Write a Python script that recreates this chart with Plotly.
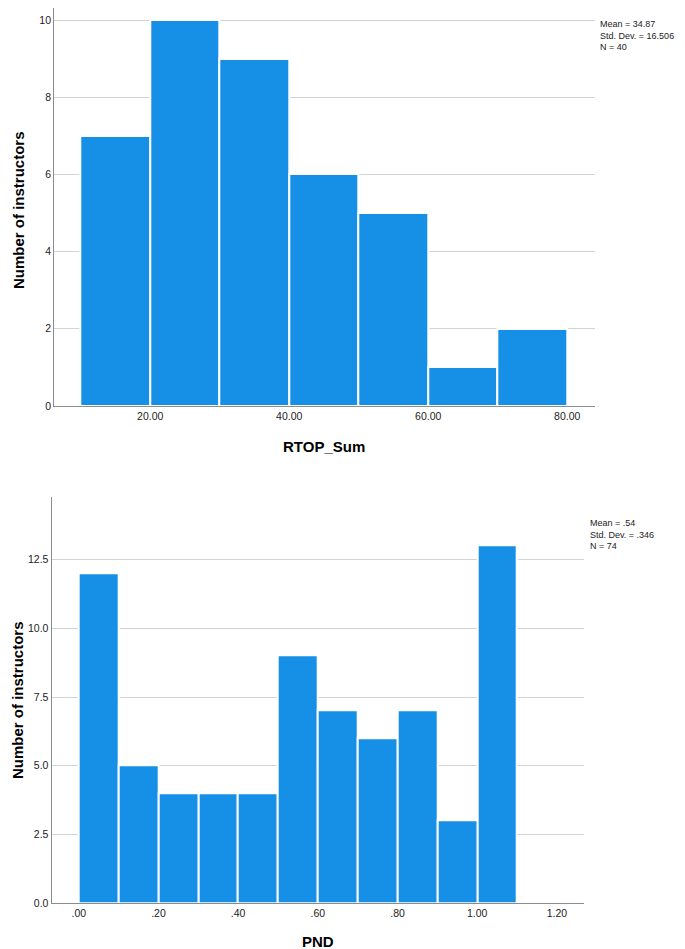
import plotly.graph_objects as go

# Top histogram: RTOP_Sum
rtop_edges = [10, 20, 30, 40, 50, 60, 70, 80]
rtop_counts = [7, 10, 9, 6, 5, 1, 2]
rtop_ticks = [20, 40, 60, 80]
rtop_ticklabels = ["20.00", "40.00", "60.00", "80.00"]
rtop_yticks = [0, 2, 4, 6, 8, 10]
rtop_stats = ["Mean = 34.87", "Std. Dev. = 16.506", "N = 40"]

# Bottom histogram: PND
pnd_edges = [0.0, 0.1, 0.2, 0.3, 0.4, 0.5, 0.6, 0.7, 0.8, 0.9, 1.0, 1.1]
pnd_counts = [12, 5, 4, 4, 4, 9, 7, 6, 7, 3, 13]
pnd_ticks = [0.0, 0.2, 0.4, 0.6, 0.8, 1.0, 1.2]
pnd_ticklabels = [".00", ".20", ".40", ".60", ".80", "1.00", "1.20"]
pnd_yticks = [0, 2.5, 5, 7.5, 10, 12.5]
pnd_yticklabels = ["0.0", "2.5", "5.0", "7.5", "10.0", "12.5"]
pnd_stats = ["Mean = .54", "Std. Dev. = .346", "N = 74"]

BAR = "#1590E6"
FONT = "Liberation Sans, Arial, sans-serif"
OFF = 8  # page body margin
W, H = 685 - OFF, 949 - OFF


def px(x):
    return (x - OFF) / W


def py(y):
    return 1 - (y - OFF) / H


def centers(edges):
    return [(a + b) / 2 for a, b in zip(edges[:-1], edges[1:])]


def widths(edges):
    return [b - a for a, b in zip(edges[:-1], edges[1:])]


fig = go.Figure()
fig.add_trace(go.Bar(x=centers(rtop_edges), y=rtop_counts, width=widths(rtop_edges),
                     marker=dict(color=BAR, line=dict(color="white", width=2)),
                     xaxis="x", yaxis="y", showlegend=False, hoverinfo="x+y"))
fig.add_trace(go.Bar(x=centers(pnd_edges), y=pnd_counts, width=widths(pnd_edges),
                     marker=dict(color=BAR, line=dict(color="white", width=2)),
                     xaxis="x2", yaxis="y2", showlegend=False, hoverinfo="x+y"))

axis_common = dict(showline=True, linecolor="#8c8c8c", linewidth=1.3, ticks="",
                   tickfont=dict(family=FONT, size=10.5, color="#222"), zeroline=False,
                   automargin=False)
title_font = dict(family=FONT, size=15, color="#000")

# top plot: 0 at screen y=406, 10 at y=20 -> 38.6 px/unit; top of area at screen y=8
top_ymax = 10 + (20 - OFF) / 38.6

fig.update_layout(
    width=W, height=H, margin=dict(l=0, r=0, t=0, b=0),
    paper_bgcolor="white", plot_bgcolor="white", bargap=0,
    font=dict(family=FONT),
    xaxis=dict(domain=[px(54.3), px(595)], range=[6.2, 84], tickvals=rtop_ticks,
               ticktext=rtop_ticklabels, showgrid=False, anchor="y", **axis_common),
    yaxis=dict(domain=[py(406), 1.0], range=[0, top_ymax], tickvals=rtop_yticks, showgrid=True,
               gridcolor="#d3d3d3", gridwidth=1, anchor="x", **axis_common),
    xaxis2=dict(domain=[px(51.7), px(584)], range=[-0.068, 1.268], tickvals=pnd_ticks,
                ticktext=pnd_ticklabels, showgrid=False, anchor="y2", **axis_common),
    yaxis2=dict(domain=[py(903.3), py(497.3)], range=[0, 14.76], tickvals=pnd_yticks,
                ticktext=pnd_yticklabels, showgrid=True, gridcolor="#d3d3d3", gridwidth=1,
                anchor="x2", **axis_common),
)

# axis titles
fig.add_annotation(text="<b>RTOP_Sum</b>", xref="paper", yref="paper", x=px(324), y=py(446),
                   xanchor="center", yanchor="middle", showarrow=False, font=title_font)
fig.add_annotation(text="<b>PND</b>", xref="paper", yref="paper", x=px(318), y=py(941),
                   xanchor="center", yanchor="middle", showarrow=False, font=title_font)
fig.add_annotation(text="<b>Number of instructors</b>", xref="paper", yref="paper", x=px(18),
                   y=py(210), xanchor="center", yanchor="middle", textangle=-90,
                   showarrow=False, font=title_font)
fig.add_annotation(text="<b>Number of instructors</b>", xref="paper", yref="paper", x=px(17),
                   y=py(700), xanchor="center", yanchor="middle", textangle=-90,
                   showarrow=False, font=title_font)

# statistics boxes
fig.add_annotation(text="<br>".join(rtop_stats), xref="paper", yref="paper",
                   x=px(599), y=py(18), xanchor="left", yanchor="top", align="left",
                   showarrow=False, borderpad=0,
                   font=dict(family=FONT, size=9.0, color="#222"))
fig.add_annotation(text="<br>".join(pnd_stats), xref="paper", yref="paper",
                   x=px(589), y=py(517), xanchor="left", yanchor="top", align="left",
                   showarrow=False, borderpad=0,
                   font=dict(family=FONT, size=9.0, color="#222"))

fig.write_html("out.html")
